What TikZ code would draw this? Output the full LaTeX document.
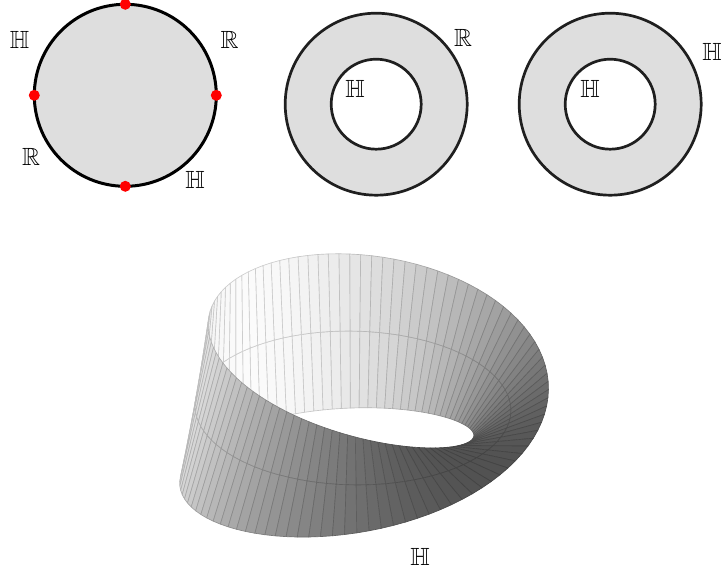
\documentclass[tikz,border=0pt]{standalone}
\usepackage{amssymb}
\definecolor{discfill}{gray}{0.87}
\tikzset{
  disc/.style={draw=black!88,line width=2.7pt,fill=discfill},
  redpt/.style={circle,fill=red,inner sep=0pt,minimum size=11pt},
  lab/.style={inner sep=0pt,font=\fontsize{24.88}{30}\selectfont},
  declare function={
    ptt(\p)=21+\p/2;
    ptr(\p,\v)=158+40*\v*cos(ptt(\p));
    ptx(\p,\v)=353+ptr(\p,\v)*cos(\p);
    pty(\p,\v)=408+0.015*ptr(\p,\v)*cos(\p)-(ptr(\p,\v)*0.487*sin(\p)+75.5*\v*sin(ptt(\p)));
    ptshade(\p)=0.64+0.34*cos(\p-130)+0.08*((1+cos(\p-240))/2)^3;
  }
}
\newcommand{\quadcell}[4]{%
  \pgfmathsetmacro{\cellg}{ptshade((#1+#2)/2)}%
  \pgfmathsetmacro{\lineg}{0.82*\cellg}%
  \definecolor{fc}{gray}{\cellg}\definecolor{lc}{gray}{\lineg}%
  \filldraw[fill=fc,draw=lc,line width=0.65pt,line join=round]
    ({ptx(#1,#3)},{pty(#1,#3)}) -- ({ptx(#1,#4)},{pty(#1,#4)}) --
    ({ptx(#2,#4)},{pty(#2,#4)}) -- ({ptx(#2,#3)},{pty(#2,#3)}) -- cycle;}
\newcommand{\stripcell}[2]{%
  \pgfmathsetmacro{\depthv}{40*cos(ptt(#1))*sin(#1)*0.866-75.5*sin(ptt(#1))*0.5}%
  \pgfmathparse{\depthv>0?1:0}%
  \ifnum\pgfmathresult=1\relax
    \quadcell{#1}{#2}{0}{1}\quadcell{#1}{#2}{-1}{0}%
  \else
    \quadcell{#1}{#2}{-1}{0}\quadcell{#1}{#2}{0}{1}%
  \fi}
\begin{document}
\begin{tikzpicture}[x=1pt,y=-1pt]
\useasboundingbox (0,0) rectangle (721,577);
% three discs
\path[disc,draw=black,line width=3pt] (125.3,95.3) circle[radius=91];
\node[redpt] (n) at (125.3,4.3) {};
\node[redpt] (e) at (216.3,95.3) {};
\node[redpt] (s) at (125.3,186.3) {};
\node[redpt] (w) at (34.3,95.3) {};
\path[disc,even odd rule] (376.2,104.2) circle[radius=91] (376.2,104.2) circle[radius=45];
\path[disc,even odd rule] (610.2,104.2) circle[radius=91] (610.2,104.2) circle[radius=45];
% labels
\node[lab] (l1) at (19.5,40) {$\mathbb{H}$};
\node[lab] (l2) at (229.5,40) {$\mathbb{R}$};
\node[lab] (l3) at (31,157) {$\mathbb{R}$};
\node[lab] (l4) at (195,180) {$\mathbb{H}$};
\node[lab] (l5) at (463,38) {$\mathbb{R}$};
\node[lab] (l6) at (355,89) {$\mathbb{H}$};
\node[lab] (l7) at (590,89) {$\mathbb{H}$};
\node[lab] (l8) at (712,52) {$\mathbb{H}$};
\node[lab] (l9) at (420,557) {$\mathbb{H}$};
% strip, back to front
\foreach \i in {0,...,49}{
  \pgfmathsetmacro{\pa}{91.1-3.6*\i}\pgfmathsetmacro{\pb}{91.1-3.6*(\i+1)}
  \stripcell{\pa}{\pb}
}
\foreach \i in {0,...,49}{
  \pgfmathsetmacro{\pa}{91.1+3.6*\i}\pgfmathsetmacro{\pb}{91.1+3.6*(\i+1)}
  \stripcell{\pa}{\pb}
}
\end{tikzpicture}
\end{document}
